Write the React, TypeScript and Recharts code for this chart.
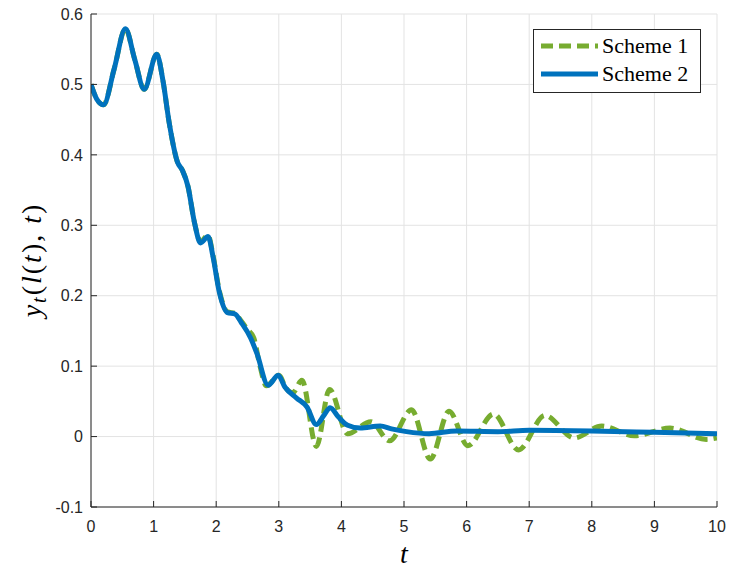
import React from "react";
import { LineChart, Line, XAxis, YAxis, CartesianGrid, Legend } from "recharts";

// tick labels
const tTicks = [0, 1, 2, 3, 4, 5, 6, 7, 8, 9, 10];
const yTicks = [-0.1, 0, 0.1, 0.2, 0.3, 0.4, 0.5, 0.6];

// Scheme 2 (solid blue)
const s2T = [0, 0.1, 0.2, 0.37, 0.55, 0.7, 0.85, 1.05, 1.15, 1.25, 1.38, 1.46, 1.55, 1.65, 1.75, 1.87, 1.95, 2.05, 2.18, 2.3, 2.4, 2.55, 2.65, 2.83, 2.99, 3.1, 3.28, 3.45, 3.6, 3.72, 3.82, 3.95, 4.1, 4.3, 4.62, 4.8, 5.04, 5.4, 5.84, 6.5, 7.0, 8.0, 9.0, 10];
const s2Y = [0.5, 0.478, 0.471, 0.522, 0.579, 0.535, 0.493, 0.543, 0.505, 0.445, 0.39, 0.378, 0.355, 0.305, 0.275, 0.284, 0.255, 0.205, 0.176, 0.174, 0.162, 0.14, 0.118, 0.073, 0.087, 0.07, 0.055, 0.042, 0.017, 0.03, 0.041, 0.028, 0.016, 0.012, 0.015, 0.011, 0.007, 0.004, 0.008, 0.007, 0.009, 0.008, 0.006, 0.004];

// Scheme 1 (dashed green)
const s1T = [0, 0.1, 0.2, 0.37, 0.55, 0.7, 0.85, 1.05, 1.15, 1.25, 1.38, 1.46, 1.55, 1.65, 1.75, 1.87, 1.95, 2.05, 2.18, 2.3, 2.4, 2.5, 2.6, 2.7, 2.8, 3.0, 3.12, 3.22, 3.37, 3.6, 3.81, 4.1, 4.47, 4.77, 5.12, 5.42, 5.72, 6.02, 6.43, 6.83, 7.25, 7.72, 8.16, 8.68, 9.25, 9.83, 10];
const s1Y = [0.5, 0.478, 0.471, 0.522, 0.579, 0.535, 0.493, 0.543, 0.505, 0.445, 0.39, 0.378, 0.355, 0.305, 0.277, 0.286, 0.257, 0.207, 0.177, 0.175, 0.164, 0.152, 0.14, 0.1, 0.072, 0.087, 0.068, 0.062, 0.08, -0.014, 0.067, 0.004, 0.021, -0.006, 0.038, -0.032, 0.036, -0.013, 0.032, -0.019, 0.03, -0.002, 0.015, 0.001, 0.012, -0.004, -0.002];

const seriesNames = ["Scheme 1", "Scheme 2"];
const seriesColors = ["#77AC30", "#0072BD"];
const seriesDash = ["12 6", undefined];

const s1 = s1T.map((t, i) => ({ t, y: s1Y[i] }));
const s2 = s2T.map((t, i) => ({ t, y: s2Y[i] }));

const axisColor = "#262626";
const tickFont = { fontFamily: '"Liberation Sans", Arial, sans-serif', fontSize: 16, fill: axisColor };

const LegendBox = () => (
  <div
    style={{
      width: 166,
      height: 60,
      border: `1px solid ${axisColor}`,
      background: "#fff",
      fontFamily: '"Liberation Serif", serif',
      fontSize: 22,
      color: "#000",
      paddingTop: 2,
      boxSizing: "content-box",
    }}
  >
    {seriesNames.map((name, i) => (
      <div key={name} style={{ display: "flex", alignItems: "center", height: 28 }}>
        <svg width={68} height={28}>
          <line
            x1={7}
            x2={64}
            y1={14}
            y2={14}
            stroke={seriesColors[i]}
            strokeWidth={5}
            strokeDasharray={seriesDash[i]}
          />
        </svg>
        <span style={{ lineHeight: "28px" }}>{name}</span>
      </div>
    ))}
  </div>
);

const YLabel = () => (
  <text
    transform="translate(41, 260) rotate(-90)"
    textAnchor="middle"
    fontFamily='"Liberation Serif", serif'
    fontSize={28}
    fill="#000"
    letterSpacing={2}
  >
    <tspan fontStyle="italic">y</tspan>
    <tspan fontStyle="italic" fontSize={20} dy={5}>t</tspan>
    <tspan dy={-5}>(</tspan>
    <tspan fontStyle="italic">l</tspan>
    <tspan>(</tspan>
    <tspan fontStyle="italic">t</tspan>
    <tspan>), </tspan>
    <tspan fontStyle="italic">t</tspan>
    <tspan>)</tspan>
  </text>
);

const XLabel = () => (
  <text x={404} y={563} textAnchor="middle" fontFamily='"Liberation Serif", serif' fontSize={28} fontStyle="italic" fill="#000">
    t
  </text>
);

const fmtY = (v: number) => (Math.abs(v) < 1e-9 ? "0" : v.toFixed(1));

export default function App() {
  return (
    <div style={{ position: "absolute", left: 0, top: 0, width: 730, height: 570, background: "#fff" }}>
      <LineChart width={730} height={570} margin={{ top: 14, right: 13, left: 0, bottom: 0 }}>
        <CartesianGrid stroke="#e3e3e3" strokeWidth={1} />
        <XAxis
          dataKey="t"
          type="number"
          domain={[0, 10]}
          ticks={tTicks}
          height={63}
          allowDataOverflow
          stroke={axisColor}
          tickSize={-6}
          tickMargin={20}
          tick={tickFont}
          label={<XLabel />}
        />
        <XAxis
          xAxisId="top"
          orientation="top"
          dataKey="t"
          type="number"
          domain={[0, 10]}
          ticks={tTicks}
          height={0}
          allowDataOverflow
          stroke={axisColor}
          tickSize={-6}
          tickFormatter={() => ""}
        />
        <YAxis
          type="number"
          domain={[-0.1, 0.6]}
          ticks={yTicks}
          width={91}
          allowDataOverflow
          stroke={axisColor}
          tickSize={-6}
          tickMargin={14}
          tick={tickFont}
          tickFormatter={fmtY}
          label={<YLabel />}
        />
        <YAxis
          yAxisId="right"
          orientation="right"
          type="number"
          domain={[-0.1, 0.6]}
          ticks={yTicks}
          width={0}
          allowDataOverflow
          stroke={axisColor}
          tickSize={-6}
          tickFormatter={() => ""}
        />
        <Line
          data={s1}
          dataKey="y"
          name={seriesNames[0]}
          type="monotone"
          stroke={seriesColors[0]}
          strokeWidth={5}
          strokeDasharray={seriesDash[0]}
          dot={false}
          isAnimationActive={false}
        />
        <Line
          data={s2}
          dataKey="y"
          name={seriesNames[1]}
          type="monotone"
          stroke={seriesColors[1]}
          strokeWidth={5}
          dot={false}
          isAnimationActive={false}
        />
        <Legend
          layout="vertical"
          align="center"
          verticalAlign="middle"
          wrapperStyle={{ left: 533, top: 29, width: "auto", height: "auto" }}
          content={<LegendBox />}
        />
      </LineChart>
    </div>
  );
}
